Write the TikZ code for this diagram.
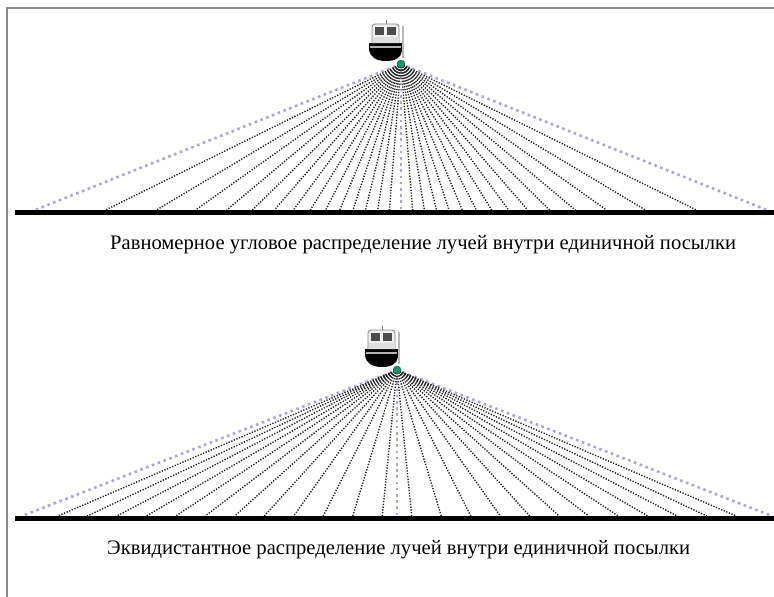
\documentclass[tikz,border=0pt]{standalone}
\usepackage{fontspec}
\setmainfont{Liberation Serif}
\usetikzlibrary{calc}
\definecolor{cray}{HTML}{262626}
\definecolor{cguide}{HTML}{A4A8D6}
\definecolor{cframe}{HTML}{8C8C8C}
\definecolor{cgreen}{HTML}{17966B}
\tikzset{
  every picture/.style={x=1pt, y=-1pt},
  ray/.style={draw=cray, line width=1.4pt, dash pattern=on 1.3pt off 1.5pt},
  guide/.style={draw=cguide, line width=2.6pt, dash pattern=on 2.6pt off 3.6pt},
  seabed/.style={draw=black, line width=5pt},
  caption/.style={font=\fontsize{20.6}{24}\selectfont, anchor=west, inner sep=0pt},
  transducer/.style={circle, draw=cgreen!55!black, fill=cgreen, inner sep=0pt, minimum size=8pt},
  boat/.pic={
    % hull
    \fill[black] (-32,-21) -- (1,-21) -- (1,-13) .. controls (0,-6) and (-6,-3) .. (-15,-3)
      .. controls (-25,-3) and (-31,-7) .. (-32,-14) -- cycle;
    \fill[gray!60] (-31,-18) rectangle (0,-16);
    % cabin
    \draw[draw=gray, fill=gray!12, line width=0.8pt, rounded corners=3pt] (-29,-21) -- (-29,-40) -- (-2,-40) -- (-2,-21);
    \fill[gray!25] (-28.5,-27) rectangle (-2.5,-21.5);
    \fill[black!70] (-26,-37) rectangle (-17,-29);
    \fill[black!70] (-14,-37) rectangle (-5,-29);
    \draw[gray, line width=1pt] (-15,-40) -- (-15,-44);
    % mast
    \draw[gray!55, line width=1.2pt] (2,-38) -- (2,-6);
  }
}

\begin{document}
\begin{tikzpicture}
  \useasboundingbox (0,0) rectangle (774,597);
  \draw[cframe, line width=2pt] (7,597) -- (7,8) -- (774,8);

  % equal-angle fan
  \coordinate (srcA) at (401,64);
  \foreach \k in {-15,0,15} {
    \pgfmathsetmacro\ex{401+146*tan(4.55*\k)}
    \coordinate (ga\k) at (\ex,210);
    \draw[guide] (srcA) -- (ga\k);
  }
  \foreach \k in {-14,...,-1,1,2,...,14} {
    \pgfmathsetmacro\ex{401+146*tan(4.55*\k)}
    \coordinate (ra\k) at (\ex,210);
    \draw[ray] (srcA) -- (ra\k);
  }
  \draw[seabed] (15,212) -- (774,212);
  \pic at (srcA) {boat};
  \node[transducer] (dotA) at (srcA) {};
  \node[caption] (capAngle) at (110,245) {Равномерное угловое распределение лучей внутри единичной посылки};

  % equidistant fan
  \coordinate (srcB) at (397,370);
  \foreach \d [count=\i] in {-375,0,375} {
    \coordinate (gb\i) at (397+\d,516);
    \draw[guide] (srcB) -- (gb\i);
  }
  \foreach \k in {0,...,11} {
    \coordinate (rl\k) at (397-14.75-29.5*\k,516);
    \coordinate (rr\k) at (397+14.75+29.5*\k,516);
    \draw[ray] (srcB) -- (rl\k);
    \draw[ray] (srcB) -- (rr\k);
  }
  \draw[seabed] (15,518) -- (774,518);
  \pic at (srcB) {boat};
  \node[transducer] (dotB) at (srcB) {};
  \node[caption] (capEqui) at (107,550) {Эквидистантное распределение лучей внутри единичной посылки};
\end{tikzpicture}
\end{document}
